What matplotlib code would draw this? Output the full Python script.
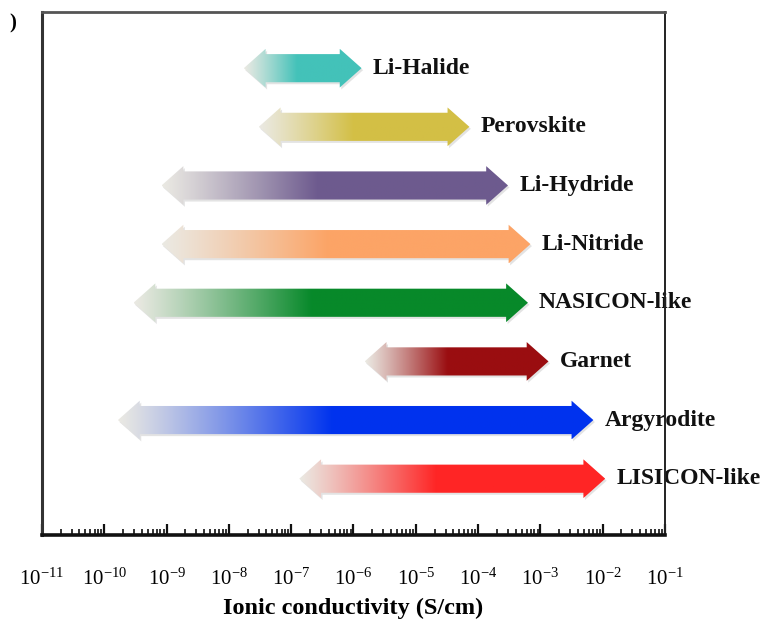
import numpy as np
import matplotlib
matplotlib.use("Agg")
import matplotlib.pyplot as plt
from matplotlib.patches import Polygon
from matplotlib.ticker import FixedLocator, FuncFormatter
import matplotlib.transforms as mtransforms

# conductivity ranges, log10(S/cm)
electrolytes = ["Li-Halide", "Perovskite", "Li-Hydride", "Li-Nitride",
                "NASICON-like", "Garnet", "Argyrodite", "LISICON-like"]
log_low = [-7.76, -7.52, -9.08, -9.08, -9.53, -5.82, -9.78, -6.87]
log_high = [-5.87, -4.14, -3.52, -3.16, -3.20, -2.87, -2.15, -1.96]
colors = ["#43c2b9", "#d3bf45", "#6d5a8e", "#fca466",
          "#07892a", "#9a0d10", "#0033ee", "#ff2525"]
decades = list(range(-11, 0))

plt.rcParams.update({
    "font.family": "Liberation Serif",
    "mathtext.fontset": "custom",
    "mathtext.rm": "Liberation Serif",
    "mathtext.it": "Liberation Serif:italic",
})

FADE = np.array([0.92, 0.915, 0.89])
HALF_BODY, HALF_HEAD, HEAD_LEN = 0.24, 0.33, 0.35


def arrow_outline(lo, hi, c):
    return np.array([
        (lo, c), (lo + HEAD_LEN, c - HALF_HEAD), (lo + HEAD_LEN, c - HALF_BODY),
        (hi - HEAD_LEN, c - HALF_BODY), (hi - HEAD_LEN, c - HALF_HEAD), (hi, c),
        (hi - HEAD_LEN, c + HALF_HEAD), (hi - HEAD_LEN, c + HALF_BODY),
        (lo + HEAD_LEN, c + HALF_BODY), (lo + HEAD_LEN, c + HALF_HEAD),
    ])


fig = plt.figure(figsize=(7.76, 6.25), dpi=100)
ax = fig.add_axes([0.054, 0.144, 0.803, 0.837])

for i, (name, lo, hi, col) in enumerate(zip(electrolytes, log_low, log_high, colors)):
    pts = arrow_outline(lo, hi, i)

    # soft drop shadow
    shadow_tr = mtransforms.offset_copy(ax.transData, fig=fig, x=1.5, y=-2.0, units="dots")
    ax.add_patch(Polygon(pts, closed=True, transform=shadow_tr,
                         facecolor="#b0b0b0", edgecolor="none", alpha=0.35, zorder=1))

    # colour ramps from pale grey to full colour over the left part of the arrow
    full = np.array(matplotlib.colors.to_rgb(col))
    t = np.clip(np.linspace(0, 1, 400) / 0.45, 0, 1) ** 1.1
    ramp = FADE[None, :] + (full - FADE)[None, :] * t[:, None]
    img = ax.imshow(ramp[None, :, :], extent=(lo, hi, i + HALF_HEAD, i - HALF_HEAD),
                    aspect="auto", interpolation="bilinear", zorder=2)
    clip = Polygon(pts, closed=True, facecolor="none", edgecolor="none",
                   transform=ax.transData)
    ax.add_patch(clip)
    img.set_clip_path(clip)

    ax.annotate(name, xy=(hi, i), xytext=(8, 0), textcoords="offset points",
                ha="left", va="center", fontsize=17, fontweight="bold",
                color="#111111", zorder=1)

ax.set_xlim(-11, -1)
ax.set_ylim(7.96, -0.96)

ax.xaxis.set_major_locator(FixedLocator(decades))
minor = [d + np.log10(m) for d in decades[:-1] for m in range(2, 10)]
ax.xaxis.set_minor_locator(FixedLocator(minor))
ax.xaxis.set_major_formatter(FuncFormatter(lambda v, _: r"$10^{%d}$" % round(v)))
ax.tick_params(axis="x", which="major", direction="in", length=8, width=1.6,
               labelsize=15, pad=24, color="#111111")
ax.tick_params(axis="x", which="minor", direction="in", length=4, width=1.2,
               color="#111111")
ax.set_yticks([])

ax.spines["bottom"].set_linewidth(2.6)
ax.spines["bottom"].set_color("#111111")
ax.spines["left"].set_linewidth(2.2)
ax.spines["left"].set_color("#333333")
ax.spines["top"].set_linewidth(2.0)
ax.spines["top"].set_color("#555555")
ax.spines["right"].set_linewidth(1.4)
ax.spines["right"].set_color("#222222")
for s in ax.spines.values():
    s.set_zorder(5)

ax.set_xlabel("Ionic conductivity (S/cm)", fontsize=17.5, fontweight="bold", labelpad=6)

fig.text(0.012, 0.962, ")", fontsize=15, fontweight="bold", ha="left", va="center")

fig.savefig("out.png", dpi=100)
